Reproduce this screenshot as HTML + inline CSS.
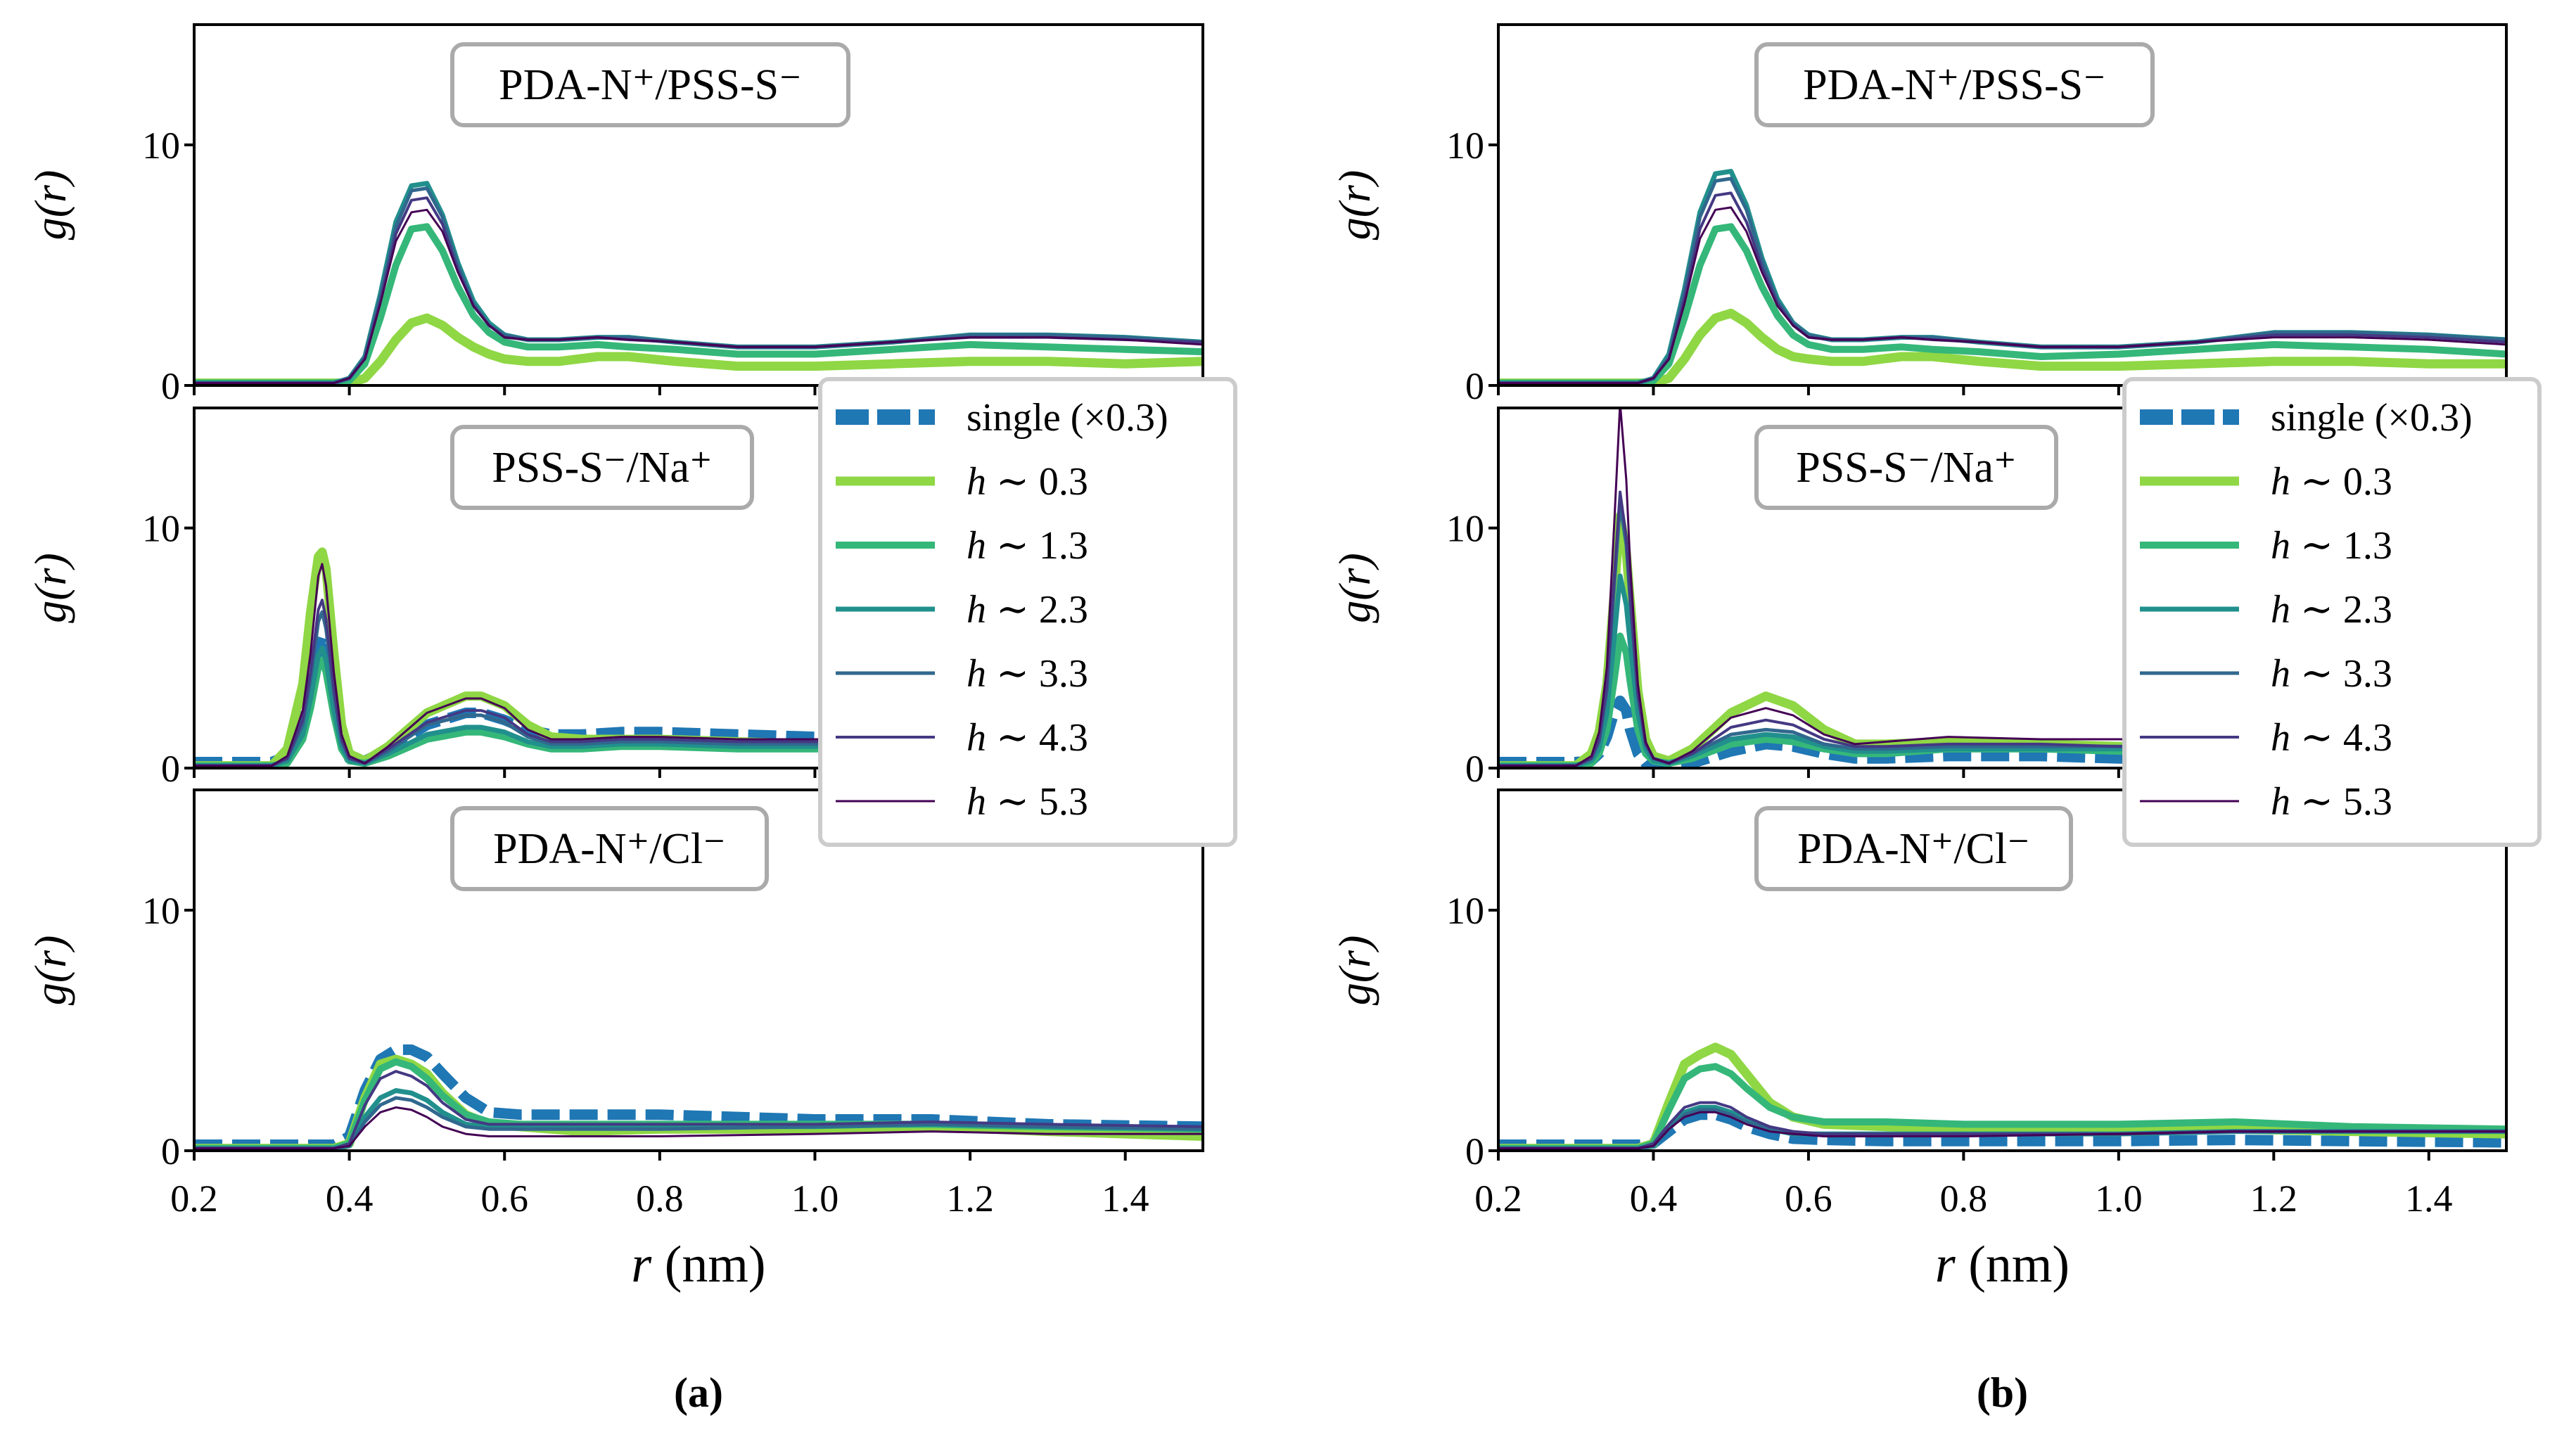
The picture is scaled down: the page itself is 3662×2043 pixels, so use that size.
<!DOCTYPE html>
<html><head><meta charset="utf-8"><style>
html,body{margin:0;padding:0;background:#fff}
svg{display:block}
text{font-family:"Liberation Serif","DejaVu Serif",serif;fill:#000}
</style></head><body>
<svg id="fig" width="3662" height="2043" viewBox="0 0 3662 2043" xmlns="http://www.w3.org/2000/svg"></svg>
<script>
// ---- data ----
const seriesNames = ["single (\u00d70.3)","h \u223c 0.3","h \u223c 1.3","h \u223c 2.3","h \u223c 3.3","h \u223c 4.3","h \u223c 5.3"];
const xTicks = [0.2,0.4,0.6,0.8,1.0,1.2,1.4];
const xTickLabels = ["0.2","0.4","0.6","0.8","1.0","1.2","1.4"];
const yTicks = [0,10];
const yTickLabels = ["0","10"];
const panelTitles = ["PDA-N\u207a/PSS-S\u207b","PSS-S\u207b/Na\u207a","PDA-N\u207a/Cl\u207b"];

const gridP1 = [0.2,0.38,0.40,0.42,0.44,0.46,0.48,0.50,0.52,0.54,0.56,0.58,0.60,0.63,0.67,0.72,0.76,0.82,0.90,1.00,1.10,1.20,1.30,1.40,1.50];
const gridA2 = [0.2,0.30,0.32,0.34,0.35,0.36,0.365,0.37,0.38,0.39,0.40,0.42,0.45,0.50,0.55,0.57,0.60,0.63,0.66,0.70,0.75,0.80,0.90,1.00,1.20,1.50];
const gridB2 = [0.2,0.30,0.32,0.33,0.34,0.35,0.357,0.365,0.37,0.38,0.39,0.40,0.42,0.45,0.50,0.545,0.58,0.62,0.66,0.70,0.78,0.90,1.00,1.20,1.50];
const gridP3 = [0.2,0.38,0.40,0.42,0.44,0.46,0.48,0.50,0.52,0.55,0.58,0.62,0.70,0.80,1.00,1.15,1.30,1.50];

// chart (a)
const a1_h03 = [0.1,0.1,0.1,0.3,1.0,1.9,2.6,2.8,2.5,2.0,1.6,1.3,1.1,1.0,1.0,1.2,1.2,1.0,0.8,0.8,0.9,1.0,1.0,0.9,1.0];
const a1_h13 = [0.1,0.1,0.2,0.9,2.8,5.0,6.5,6.6,5.6,4.1,2.9,2.2,1.8,1.6,1.6,1.7,1.6,1.5,1.3,1.3,1.5,1.7,1.6,1.5,1.4];
const a1_h23 = [0.1,0.1,0.3,1.2,3.8,6.8,8.3,8.4,7.1,5.1,3.5,2.6,2.1,1.9,1.9,2.0,2.0,1.8,1.6,1.6,1.8,2.1,2.1,2.0,1.8];
const a1_h33 = [0.1,0.1,0.3,1.2,3.7,6.6,8.1,8.2,7.0,5.0,3.4,2.5,2.1,1.9,1.9,2.0,2.0,1.8,1.6,1.6,1.8,2.1,2.1,2.0,1.8];
const a1_h43 = [0.1,0.1,0.3,1.1,3.5,6.3,7.7,7.8,6.7,4.8,3.3,2.5,2.0,1.9,1.9,2.0,1.9,1.8,1.6,1.6,1.8,2.0,2.0,1.9,1.8];
const a1_h53 = [0.1,0.1,0.3,1.1,3.4,6.0,7.2,7.3,6.4,4.7,3.3,2.5,2.0,1.9,1.9,2.0,1.9,1.8,1.6,1.6,1.8,2.0,2.0,1.9,1.7];

const a2_single = [0.25,0.25,0.5,2.0,3.5,5.0,5.5,5.0,3.0,1.2,0.4,0.3,0.8,1.8,2.3,2.3,2.0,1.6,1.4,1.4,1.5,1.5,1.4,1.3,1.2,1.1];
const a2_h03 = [0.1,0.1,0.8,3.5,6.5,8.8,9.0,8.3,4.8,1.8,0.6,0.3,0.9,2.3,3.0,3.0,2.6,1.8,1.3,1.2,1.2,1.2,1.1,1.0,1.0,0.9];
const a2_h13 = [0.1,0.1,0.2,1.2,2.5,4.2,4.5,4.0,2.2,0.8,0.3,0.2,0.5,1.2,1.5,1.5,1.3,1.0,0.8,0.8,0.9,0.9,0.8,0.8,0.8,0.8];
const a2_h23 = [0.1,0.1,0.3,1.4,2.9,4.7,5.0,4.5,2.4,0.9,0.3,0.2,0.6,1.4,1.7,1.7,1.5,1.1,0.9,0.9,1.0,1.0,0.9,0.9,0.9,0.9];
const a2_h33 = [0.1,0.1,0.4,1.8,3.7,6.1,6.5,5.8,3.1,1.1,0.4,0.2,0.7,1.8,2.2,2.2,1.9,1.3,1.0,1.0,1.1,1.1,1.0,1.0,1.0,1.0];
const a2_h43 = [0.1,0.1,0.4,2.0,4.0,6.6,7.0,6.2,3.3,1.2,0.4,0.2,0.8,1.9,2.4,2.4,2.1,1.4,1.1,1.1,1.2,1.2,1.1,1.1,1.1,1.0];
const a2_h53 = [0.1,0.1,0.5,2.4,4.8,8.0,8.5,7.6,4.0,1.4,0.5,0.2,0.9,2.3,2.9,2.9,2.5,1.6,1.2,1.2,1.3,1.3,1.2,1.2,1.1,1.1];

const a3_single = [0.25,0.25,0.6,2.5,3.8,4.2,4.2,3.9,3.2,2.2,1.6,1.5,1.5,1.5,1.3,1.3,1.1,1.0];
const a3_h03 = [0.1,0.1,0.3,2.2,3.6,3.8,3.6,3.2,2.4,1.5,1.1,1.0,0.8,0.9,0.9,1.0,0.8,0.6];
const a3_h13 = [0.1,0.1,0.3,2.1,3.4,3.7,3.5,3.0,2.3,1.5,1.2,1.1,1.1,1.1,1.1,1.1,1.0,0.9];
const a3_h23 = [0.1,0.1,0.2,1.4,2.2,2.5,2.4,2.1,1.6,1.1,1.0,1.0,1.0,1.0,1.0,1.1,1.0,0.9];
const a3_h33 = [0.1,0.1,0.2,1.2,1.9,2.2,2.1,1.8,1.4,1.0,0.9,0.9,0.9,0.9,1.0,1.1,1.0,0.9];
const a3_h43 = [0.1,0.1,0.3,1.9,3.0,3.3,3.1,2.7,2.0,1.3,1.1,1.1,1.1,1.1,1.1,1.2,1.1,1.0];
const a3_h53 = [0.1,0.1,0.2,1.0,1.6,1.8,1.7,1.4,1.0,0.7,0.6,0.6,0.6,0.6,0.7,0.8,0.7,0.7];

// chart (b)
const b1_h03 = [0.1,0.1,0.1,0.3,1.1,2.1,2.8,3.0,2.6,2.0,1.5,1.2,1.1,1.0,1.0,1.2,1.2,1.0,0.8,0.8,0.9,1.0,1.0,0.9,0.9];
const b1_h13 = [0.1,0.1,0.2,0.9,2.8,5.0,6.5,6.6,5.6,4.1,2.9,2.1,1.7,1.5,1.5,1.6,1.5,1.4,1.2,1.3,1.5,1.7,1.6,1.5,1.3];
const b1_h23 = [0.1,0.1,0.3,1.3,4.0,7.2,8.8,8.9,7.5,5.3,3.6,2.6,2.1,1.9,1.9,2.0,2.0,1.8,1.6,1.6,1.8,2.2,2.2,2.1,1.9];
const b1_h33 = [0.1,0.1,0.3,1.2,3.9,7.0,8.5,8.6,7.3,5.2,3.5,2.6,2.1,1.9,1.9,2.0,2.0,1.8,1.6,1.6,1.8,2.2,2.2,2.1,1.9];
const b1_h43 = [0.1,0.1,0.3,1.1,3.6,6.5,7.9,8.0,6.8,4.9,3.4,2.5,2.0,1.9,1.9,2.0,1.9,1.8,1.6,1.6,1.8,2.1,2.1,2.0,1.8];
const b1_h53 = [0.1,0.1,0.3,1.1,3.4,6.1,7.3,7.4,6.4,4.7,3.3,2.5,2.0,1.9,1.9,2.0,1.9,1.8,1.6,1.6,1.8,2.0,2.0,1.9,1.7];

const b2_single = [0.25,0.25,0.3,0.6,1.3,2.4,2.8,2.4,1.6,0.6,0.2,0.05,0.05,0.2,0.7,1.0,0.9,0.6,0.4,0.4,0.5,0.5,0.4,0.4,0.4];
const b2_h03 = [0.1,0.1,0.6,1.5,3.5,7.5,10.5,9.0,7.0,3.2,1.2,0.5,0.3,0.8,2.3,3.0,2.6,1.6,1.0,1.0,1.1,1.0,0.9,0.9,0.8];
const b2_h13 = [0.1,0.1,0.2,0.6,1.6,3.8,5.5,4.8,3.6,1.6,0.6,0.3,0.2,0.4,1.0,1.2,1.1,0.8,0.6,0.6,0.8,0.8,0.7,0.7,0.7];
const b2_h23 = [0.1,0.1,0.3,0.8,2.3,5.6,8.0,6.8,5.2,2.3,0.8,0.3,0.2,0.5,1.2,1.4,1.3,0.9,0.7,0.7,0.8,0.8,0.8,0.8,0.8];
const b2_h33 = [0.1,0.1,0.4,1.1,3.2,7.8,11.0,9.3,7.0,3.0,1.0,0.4,0.2,0.6,1.4,1.6,1.5,1.0,0.8,0.8,0.9,0.9,0.9,0.9,0.9];
const b2_h43 = [0.1,0.1,0.4,1.2,3.4,8.2,11.5,9.6,7.2,3.1,1.0,0.4,0.2,0.6,1.7,2.0,1.8,1.2,0.9,0.9,1.0,1.0,0.9,0.9,0.9];
const b2_h53 = [0.1,0.1,0.5,1.5,4.2,10.5,15.2,12.0,8.5,3.5,1.1,0.4,0.2,0.7,2.1,2.5,2.2,1.4,1.0,1.1,1.3,1.2,1.2,1.1,1.1];

const b3_single = [0.25,0.25,0.3,0.8,1.3,1.5,1.5,1.3,1.0,0.7,0.5,0.45,0.4,0.4,0.4,0.45,0.4,0.35];
const b3_h03 = [0.1,0.1,0.3,2.0,3.6,4.0,4.3,4.0,3.2,2.0,1.4,1.1,1.0,0.9,0.9,0.9,0.8,0.7];
const b3_h13 = [0.1,0.1,0.3,1.7,3.0,3.4,3.5,3.2,2.6,1.8,1.4,1.2,1.2,1.1,1.1,1.2,1.0,0.9];
const b3_h23 = [0.1,0.1,0.2,1.0,1.6,1.8,1.8,1.6,1.3,0.9,0.7,0.7,0.7,0.7,0.7,0.8,0.8,0.8];
const b3_h33 = [0.1,0.1,0.2,0.9,1.5,1.7,1.7,1.5,1.2,0.9,0.7,0.7,0.7,0.7,0.7,0.8,0.8,0.8];
const b3_h43 = [0.1,0.1,0.3,1.1,1.8,2.0,2.0,1.8,1.4,1.0,0.8,0.7,0.7,0.7,0.7,0.8,0.8,0.8];
const b3_h53 = [0.1,0.1,0.2,0.9,1.4,1.6,1.6,1.4,1.1,0.8,0.7,0.6,0.6,0.6,0.7,0.8,0.8,0.8];

// ---- styling ----
const colors = ["#1f77b4","#8fd744","#35b779","#21908d","#31688e","#443983","#440154"];
const widths = [15,13,10,7,5,4,3];
const xMin=0.2, xMax=1.5, yMin=0, yMax=15;
const panelsY = [[35,548],[580,1092],[1123,1636]];
const chartsX = [[276,1710],[2130,3563]];

const NS="http://www.w3.org/2000/svg";
const svg=document.getElementById('fig');
function mk(tag,attrs,parent){const e=document.createElementNS(NS,tag);for(const k in attrs)e.setAttribute(k,attrs[k]);(parent||svg).appendChild(e);return e;}

const chartData = [
 {label:"(a)", panels:[
   {grid:gridP1, s:[null,a1_h03,a1_h13,a1_h23,a1_h33,a1_h43,a1_h53]},
   {grid:gridA2, s:[a2_single,a2_h03,a2_h13,a2_h23,a2_h33,a2_h43,a2_h53]},
   {grid:gridP3, s:[a3_single,a3_h03,a3_h13,a3_h23,a3_h33,a3_h43,a3_h53]}]},
 {label:"(b)", panels:[
   {grid:gridP1, s:[null,b1_h03,b1_h13,b1_h23,b1_h33,b1_h43,b1_h53]},
   {grid:gridB2, s:[b2_single,b2_h03,b2_h13,b2_h23,b2_h33,b2_h43,b2_h53]},
   {grid:gridP3, s:[b3_single,b3_h03,b3_h13,b3_h23,b3_h33,b3_h43,b3_h53]}]}
];
const titleBoxW=[563,426,447];

chartData.forEach((chart,ci)=>{
  const [x0,x1]=chartsX[ci];
  const g=mk('g',{});
  
  
  const xs=v=>x0+(v-xMin)/(xMax-xMin)*(x1-x0);
  chart.panels.forEach((p,pi)=>{
    const [y0,y1]=panelsY[pi];
    const ys=v=>y1-(v-yMin)/(yMax-yMin)*(y1-y0);
    const pg=mk('g',{},g);
    
    
    const cid='clip'+ci+pi;
    const cp=mk('clipPath',{id:cid},pg);
    mk('rect',{x:x0,y:y0,width:x1-x0,height:y1-y0},cp);
    const lines=mk('g',{'clip-path':'url(#'+cid+')'},pg);
    p.s.forEach((arr,si)=>{
      if(!arr) return;
      const pts=arr.map((v,i)=>xs(p.grid[i]).toFixed(1)+','+ys(v).toFixed(1)).join(' ');
      const pl=mk('polyline',{points:pts,fill:'none',stroke:colors[si],'stroke-width':widths[si],'stroke-linejoin':'round'},lines);
      if(si===0) pl.setAttribute('stroke-dasharray','40 14');
      
      
    });
    const fr=mk('rect',{x:x0,y:y0,width:x1-x0,height:y1-y0,fill:'none',stroke:'#000','stroke-width':4},pg);
    
    
    xTicks.forEach((t,i)=>{
      const tk=mk('line',{x1:xs(t),x2:xs(t),y1:y1,y2:y1+14,stroke:'#000','stroke-width':4},pg);
      
      
      if(pi===2){
        const tl=mk('text',{x:xs(t),y:1722,'font-size':54,'text-anchor':'middle'},pg);
        tl.textContent=xTickLabels[i];
        
        
      }
    });
    yTicks.forEach((t,i)=>{
      const tk=mk('line',{x1:x0-14,x2:x0,y1:ys(t),y2:ys(t),stroke:'#000','stroke-width':4},pg);
      
      
      const tl=mk('text',{x:x0-20,y:ys(t)+19,'font-size':54,'text-anchor':'end'},pg);
      tl.textContent=yTickLabels[i];
      
      
    });
    const yl=mk('text',{x:0,y:0,'font-size':64,'font-style':'italic','text-anchor':'middle',transform:'translate('+(x0-183)+','+((y0+y1)/2)+') rotate(-90)'},pg);
    yl.textContent='g(r)';
    
    
    const by=y0+[28,27,26][pi];
    const bx=x0+367;
    const tb=mk('rect',{x:bx,y:by,width:titleBoxW[pi],height:115,rx:16,fill:'#fff',stroke:'#aaa','stroke-width':6},pg);
    
    
    const tt=mk('text',{x:bx+titleBoxW[pi]/2,y:by+78,'font-size':62,'text-anchor':'middle'},pg);
    tt.textContent=panelTitles[pi];
    
    
  });
  const xl=mk('text',{x:(x0+x1)/2,y:1822,'font-size':74,'text-anchor':'middle'},g);
  xl.innerHTML='<tspan font-style="italic">r</tspan> (nm)';
  
  
  const sl=mk('text',{x:(x0+x1)/2,y:2000,'font-size':60,'font-weight':'bold','text-anchor':'middle'},g);
  sl.textContent=chart.label;
  
  
  // legend
  const lx=x0+890, ly=539;
  const lg=mk('g',{},g);
  
  
  mk('rect',{x:lx,y:ly,width:590,height:662,rx:12,fill:'#ffffff',stroke:'#ccc','stroke-width':6},lg);
  seriesNames.forEach((nm,si)=>{
    const ey=ly+54+si*91;
    const ln=mk('line',{x1:lx+22,x2:lx+163,y1:ey,y2:ey,stroke:colors[si],'stroke-width':si===0?22:widths[si]},lg);
    if(si===0) ln.setAttribute('stroke-dasharray','47 12');
    
    
    const t=mk('text',{x:lx+208,y:ey+19,'font-size':56},lg);
    if(si===0) t.textContent=nm;
    else t.innerHTML='<tspan font-style="italic">h</tspan> \u223c '+nm.split(' ')[2];
    
    
  });
});
</script>
</body></html>
